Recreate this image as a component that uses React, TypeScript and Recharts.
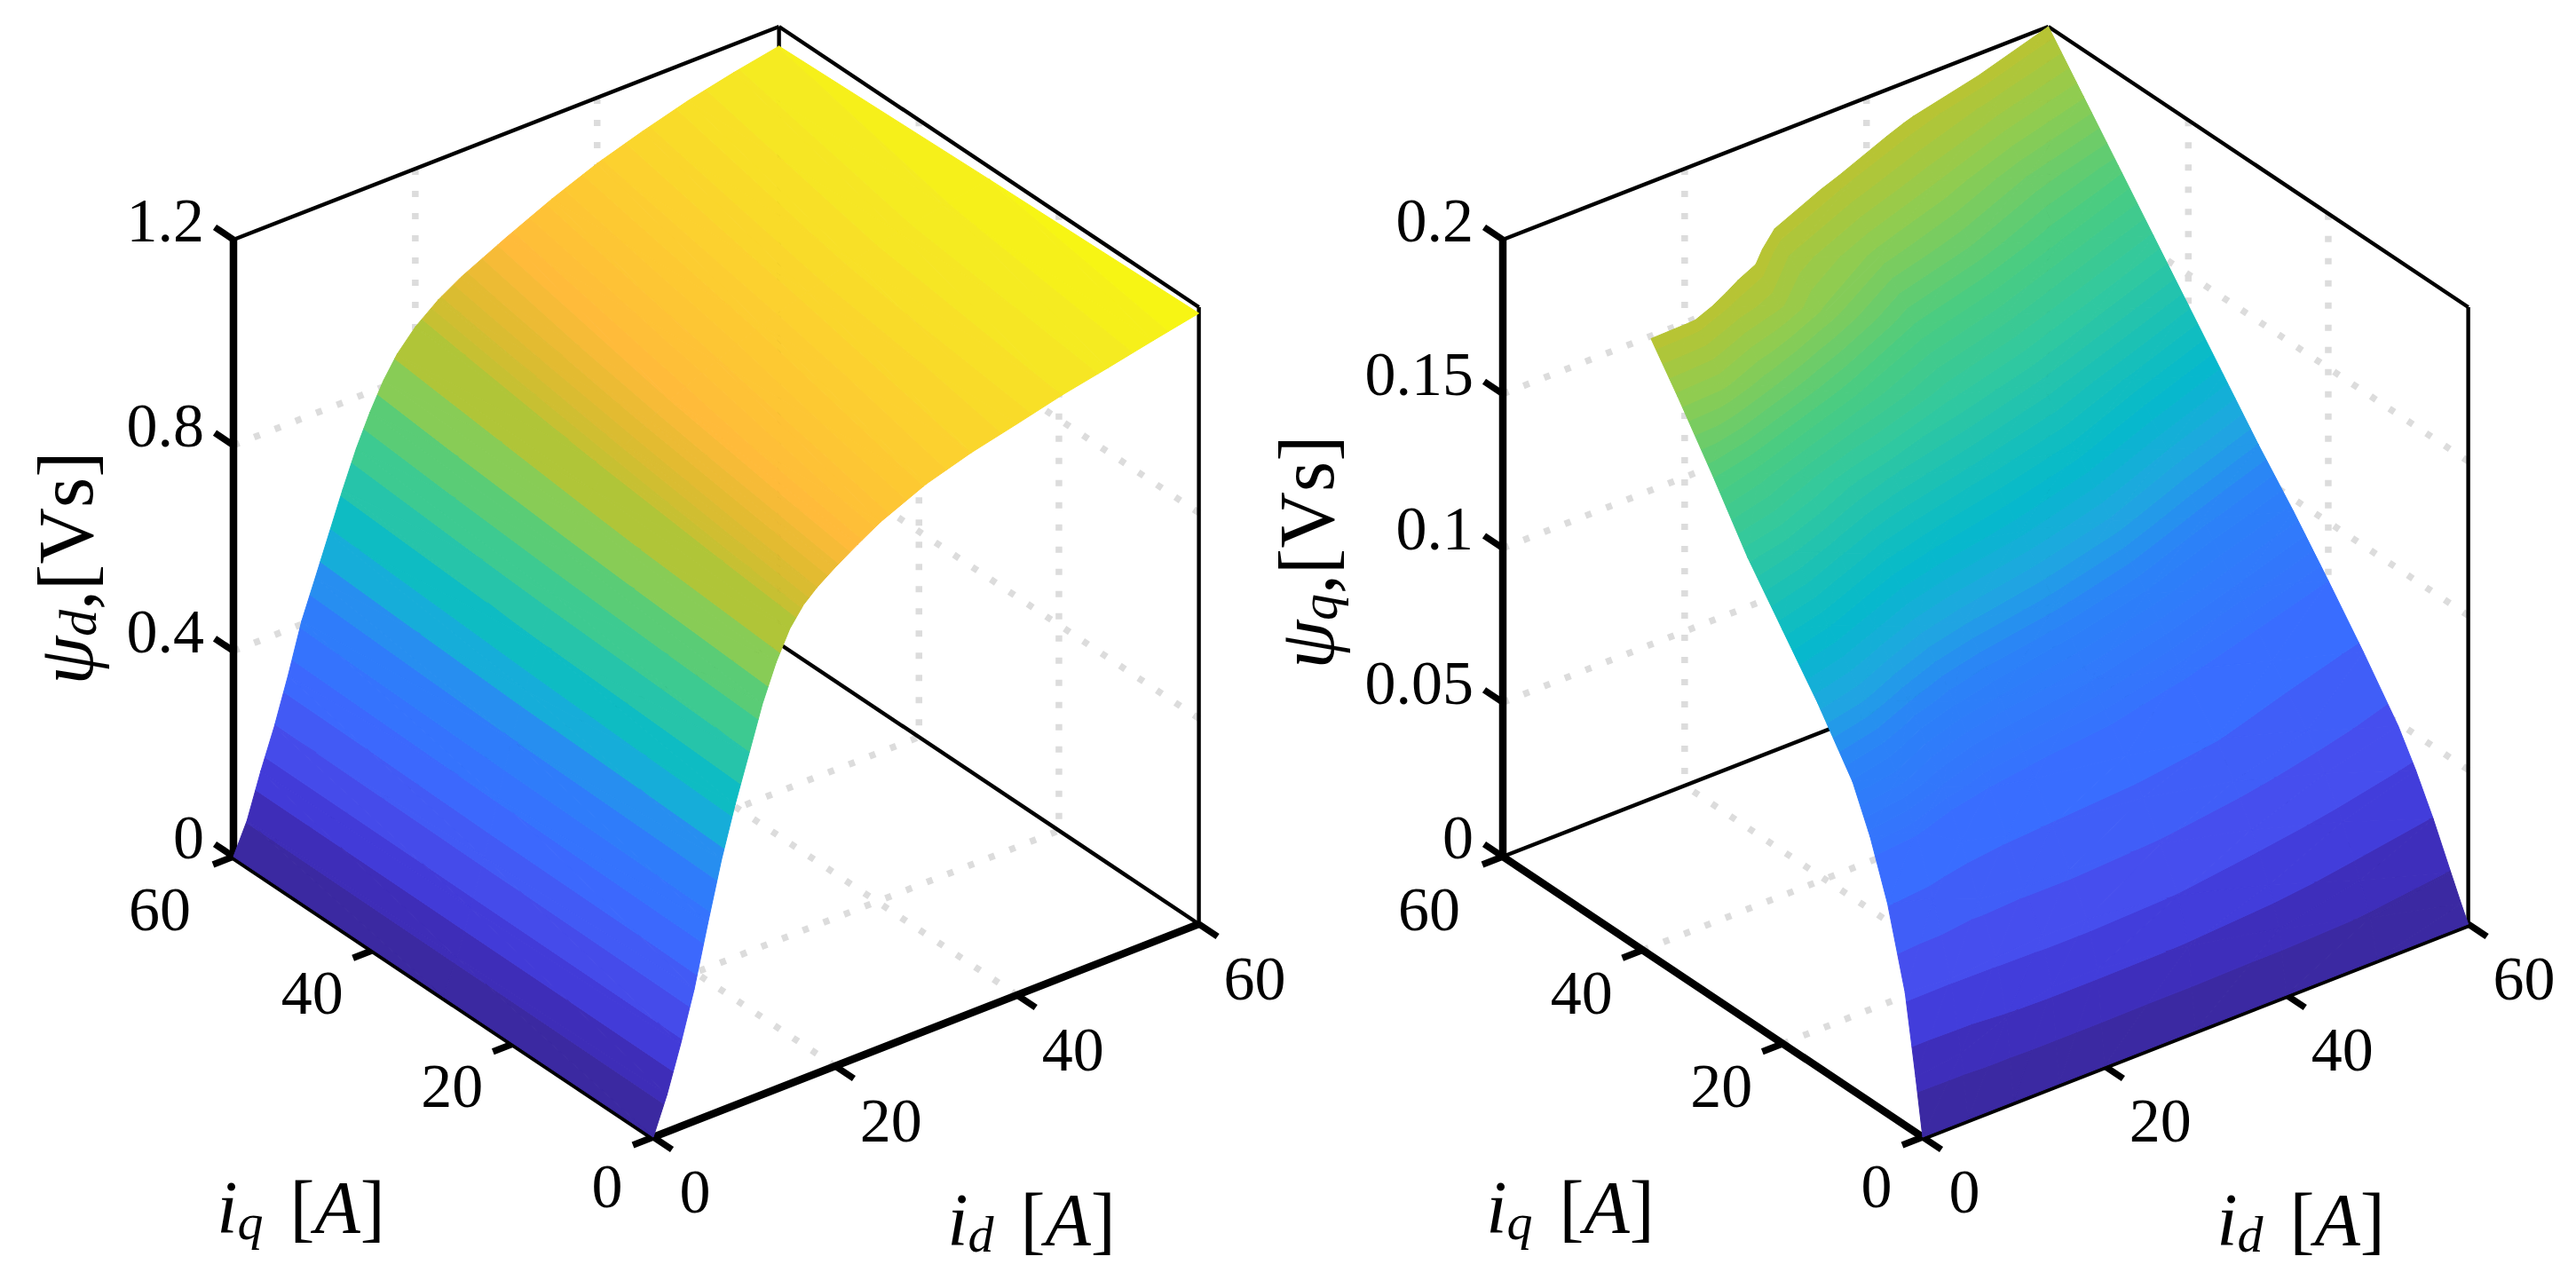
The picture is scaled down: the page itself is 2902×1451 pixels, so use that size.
import { Scatter, ScatterChart, XAxis, YAxis } from "recharts";

const PANEL_H = 1451;
const FONT = "'Liberation Serif', serif";

// values
const idTicks = [0, 20, 40, 60];
const iqTicks = [0, 20, 40, 60];
const zTicksD = [0, 0.4, 0.8, 1.2];
const zLabelsD = ["0", "0.4", "0.8", "1.2"];
const zTicksQ = [0, 0.05, 0.1, 0.15, 0.2];
const zLabelsQ = ["0", "0.05", "0.1", "0.15", "0.2"];

const dIds = [0, 1.5, 3, 4.5, 6, 7.5, 9, 10.5, 12, 13.5, 15, 16.5, 18, 20, 22.5, 25, 30, 35, 40, 45, 50, 55, 60];
const dIqs = [0, 30, 60];
const psiD = [
  [0, 0.072, 0.16, 0.257, 0.375, 0.488, 0.585, 0.672, 0.76, 0.83, 0.885, 0.921, 0.945, 0.97, 0.998, 1.024, 1.063, 1.09, 1.111, 1.133, 1.151, 1.17, 1.188],
  [0, 0.066, 0.152, 0.24, 0.345, 0.45, 0.535, 0.617, 0.7, 0.77, 0.83, 0.872, 0.905, 0.935, 0.965, 0.99, 1.03, 1.065, 1.095, 1.122, 1.142, 1.16, 1.176],
  [0, 0.06, 0.145, 0.222, 0.31, 0.406, 0.48, 0.555, 0.63, 0.7, 0.76, 0.812, 0.853, 0.892, 0.927, 0.954, 0.997, 1.037, 1.072, 1.1, 1.125, 1.145, 1.162],
];

const qIds = [0, 5, 10, 15, 20, 30, 40, 50, 60];
const qIqs = [0, 1, 2.5, 5, 7.5, 10, 15, 20, 25, 30, 35, 40, 45, 50, 55, 60];
const psiQ = [
  [0, 0, 0, 0, 0, 0, 0, 0, 0],
  [0.018, 0.02, 0.026, 0.03, 0.03, 0.026, 0.02, 0.012, 0.005],
  [0.043, 0.042, 0.043, 0.044, 0.044, 0.04, 0.032, 0.022, 0.013],
  [0.068, 0.064, 0.058, 0.056, 0.056, 0.053, 0.046, 0.037, 0.0265],
  [0.086, 0.082, 0.073, 0.069, 0.067, 0.064, 0.058, 0.049, 0.0385],
  [0.1, 0.096, 0.087, 0.081, 0.078, 0.074, 0.068, 0.059, 0.049],
  [0.118, 0.114, 0.107, 0.101, 0.097, 0.091, 0.083, 0.074, 0.0655],
  [0.134, 0.13, 0.124, 0.118, 0.114, 0.108, 0.1, 0.09, 0.081],
  [0.15, 0.146, 0.14, 0.134, 0.13, 0.124, 0.116, 0.105, 0.096],
  [0.169, 0.164, 0.157, 0.15, 0.145, 0.138, 0.131, 0.12, 0.11],
  [0.187, 0.186, 0.179, 0.172, 0.165, 0.153, 0.145, 0.135, 0.125],
  [0.204, 0.2035, 0.197, 0.192, 0.184, 0.168, 0.16, 0.15, 0.14],
  [0.222, 0.218, 0.211, 0.204, 0.194, 0.183, 0.175, 0.165, 0.155],
  [0.238, 0.232, 0.226, 0.218, 0.208, 0.197, 0.188, 0.178, 0.17],
  [0.252, 0.247, 0.24, 0.232, 0.225, 0.213, 0.201, 0.193, 0.185],
  [0.265, 0.26, 0.255, 0.249, 0.243, 0.232, 0.222, 0.21, 0.2],
];

// colormap stops as seen on the surface
const cmapPos = [0, 0.06, 0.11, 0.18, 0.27, 0.385, 0.43, 0.477, 0.56, 0.62, 0.69, 0.735, 0.79, 0.83, 0.9, 0.96, 1];
const cmapCol = [
  "#3a2898", "#3d2ab0", "#4138d5", "#4650f0", "#3a6cff", "#2b82f8", "#1fa7e0", "#05b9cc", "#30c8a0",
  "#4ccc80", "#90cc50", "#b5c434", "#e0bb30", "#ffbb3a", "#fcd02f", "#f5ea22", "#f8fb0c",
];

function hexRgb(h: string) {
  return [1, 3, 5].map((i) => parseInt(h.slice(i, i + 2), 16));
}

function cmap(v: number) {
  let k = 0;
  while (k < cmapPos.length - 2 && v > cmapPos[k + 1]) k++;
  const t = Math.min(1, Math.max(0, (v - cmapPos[k]) / (cmapPos[k + 1] - cmapPos[k])));
  const a = hexRgb(cmapCol[k]);
  const b = hexRgb(cmapCol[k + 1]);
  return `rgb(${a.map((c, i) => Math.round(c + (b[i] - c) * t)).join(",")})`;
}

type V = { x: number; y: number; z: number };

// keep the part of a polygon on one side of a z level
function cutZ(poly: V[], level: number, above: boolean) {
  const out: V[] = [];
  poly.forEach((a, i) => {
    const b = poly[(i + 1) % poly.length];
    const aIn = above ? a.z >= level : a.z <= level;
    const bIn = above ? b.z >= level : b.z <= level;
    if (aIn) out.push(a);
    if (aIn !== bIn) {
      const t = (level - a.z) / (b.z - a.z);
      out.push({ x: a.x + (b.x - a.x) * t, y: a.y + (b.y - a.y) * t, z: level });
    }
  });
  return out;
}

type Cfg = {
  left: number;
  width: number;
  originX: number;
  zMax: number;
  cMax: number;
  band: number;
  bandTop: number;
  fine: number;
  fluxX: number;
  fluxY: number;
  iqTitleX: number;
  idTitleX: number;
  sub: string;
  ids: number[];
  iqs: number[];
  table: number[][];
  zTicks: number[];
  zLabels: string[];
};

const ORIGIN_Y = 1281;

function projector(originX: number, zMax: number) {
  return (id: number, iq: number, z: number) => ({
    x: originX + (id / 60) * 614.6 - (iq / 60) * 473,
    y: ORIGIN_Y - (id / 60) * 240 - (iq / 60) * 316 - (z / zMax) * 695,
  });
}

function buildSurface(c: Cfg) {
  const p = projector(c.originX, c.zMax);
  const levels = [0];
  while (levels[levels.length - 1] < c.bandTop) levels.push(levels[levels.length - 1] + c.band);
  while (levels[levels.length - 1] < 1.02) levels.push(levels[levels.length - 1] + c.fine);
  const polys: { color: string; n: number }[] = [];
  const pts: { x: number; y: number }[] = [];
  const vert = (a: number, b: number) => {
    const q = p(c.ids[b], c.iqs[a], c.table[a][b]);
    return { x: q.x, y: q.y, z: c.table[a][b] / c.cMax };
  };
  const limit = c.zMax / c.cMax;
  for (let a = c.iqs.length - 2; a >= 0; a--) {
    for (let b = c.ids.length - 2; b >= 0; b--) {
      const tris = [
        [vert(a, b), vert(a, b + 1), vert(a + 1, b + 1)],
        [vert(a, b), vert(a + 1, b + 1), vert(a + 1, b)],
      ];
      tris.forEach((tri) => {
        for (let l = 0; l < levels.length - 1; l++) {
          if (levels[l] >= limit) break;
          const hi = Math.min(levels[l + 1], limit);
          const piece = cutZ(cutZ(tri, levels[l], true), hi, false);
          if (piece.length < 3) continue;
          polys.push({ color: cmap((levels[l] + levels[l + 1]) / 2), n: piece.length });
          piece.forEach((v) => pts.push({ x: v.x, y: v.y }));
        }
      });
    }
  }
  return { polys, pts };
}

function grid(c: Cfg) {
  const p = projector(c.originX, c.zMax);
  const out: { x: number; y: number }[] = [];
  const add = (a: { x: number; y: number }, b: { x: number; y: number }) => out.push(a, b);
  c.zTicks.slice(1, -1).forEach((z) => {
    add(p(0, 60, z), p(60, 60, z));
    add(p(60, 0, z), p(60, 60, z));
  });
  [20, 40].forEach((t) => {
    add(p(t, 60, c.zMax), p(t, 60, 0));
    add(p(60, t, c.zMax), p(60, t, 0));
    add(p(t, 0, 0), p(t, 60, 0));
    add(p(0, t, 0), p(60, t, 0));
  });
  return out;
}

function thinBox(c: Cfg) {
  const p = projector(c.originX, c.zMax);
  return [
    p(0, 60, c.zMax), p(60, 60, c.zMax),
    p(60, 60, c.zMax), p(60, 0, c.zMax),
    p(60, 0, c.zMax), p(60, 0, 0),
    p(60, 60, c.zMax), p(60, 60, 0),
    p(0, 60, 0), p(60, 60, 0),
    p(60, 60, 0), p(60, 0, 0),
  ];
}

function thickAxes(c: Cfg) {
  const p = projector(c.originX, c.zMax);
  return [p(0, 60, 0), p(0, 60, c.zMax), p(0, 0, 0), p(60, 0, 0), p(0, 0, 0), p(0, 60, 0)];
}

function tickMarks(c: Cfg) {
  const p = projector(c.originX, c.zMax);
  const out: { x: number; y: number }[] = [];
  const add = (a: { x: number; y: number }, dx: number, dy: number) =>
    out.push(a, { x: a.x + dx, y: a.y + dy });
  c.zTicks.forEach((z) => add(p(0, 60, z), -21, -14));
  idTicks.forEach((t) => add(p(t, 0, 0), 21, 14));
  iqTicks.forEach((t) => add(p(0, t, 0), -23, 9));
  return out;
}

function tickLabels(c: Cfg) {
  const p = projector(c.originX, c.zMax);
  const out: { x: number; y: number; text: string; anchor: string }[] = [];
  c.zTicks.forEach((z, i) => {
    const q = p(0, 60, z);
    out.push({ x: q.x - 33, y: q.y - 22, text: c.zLabels[i], anchor: "end" });
  });
  idTicks.forEach((t) => {
    const q = p(t, 0, 0);
    out.push({ x: q.x + (t === 0 ? 47 : 63), y: q.y + 61, text: String(t), anchor: "middle" });
  });
  iqTicks.forEach((t) => {
    const q = p(0, t, 0);
    const off = t === 0 ? [-52, 55] : t === 60 ? [-83, 59] : [-69, 48];
    out.push({ x: q.x + off[0], y: q.y + off[1], text: String(t), anchor: "middle" });
  });
  return out;
}

const noDot = () => <g />;

function segments(stroke: string, width: number, dash?: string) {
  return (props: any) => {
    const pts = props.points;
    const items = [];
    for (let i = 0; i + 1 < pts.length; i += 2) {
      items.push(
        <line
          key={i}
          x1={pts[i].x}
          y1={pts[i].y}
          x2={pts[i + 1].x}
          y2={pts[i + 1].y}
          stroke={stroke}
          strokeWidth={width}
          strokeDasharray={dash}
        />
      );
    }
    return <g>{items}</g>;
  };
}

function polygons(polys: { color: string; n: number }[]) {
  return (props: any) => {
    const pts = props.points;
    let k = 0;
    return (
      <g>
        {polys.map((poly, i) => {
          const s = pts.slice(k, k + poly.n).map((v: any) => `${v.x},${v.y}`).join(" ");
          k += poly.n;
          return <polygon key={i} points={s} fill={poly.color} stroke={poly.color} strokeWidth={1} strokeLinejoin="round" />;
        })}
      </g>
    );
  };
}

function TickText(props: any) {
  const d = props.payload;
  return (
    <text x={props.cx} y={props.cy} textAnchor={d.anchor} dominantBaseline="central" fontFamily={FONT} fontSize={70} fill="#000">
      {d.text}
    </text>
  );
}

function CurrentTitle(props: any) {
  const d = props.payload;
  return (
    <text x={props.cx} y={props.cy} textAnchor="middle" dominantBaseline="central" fontFamily={FONT} fontSize={84} fill="#000">
      <tspan fontStyle="italic">i</tspan>
      <tspan fontStyle="italic" fontSize={58} dy={16}>{d.sub}</tspan>
      <tspan dy={-16} dx={30}>[</tspan>
      <tspan fontStyle="italic">A</tspan>
      <tspan>]</tspan>
    </text>
  );
}

function FluxTitle(props: any) {
  const d = props.payload;
  return (
    <text
      x={props.cx}
      y={props.cy}
      textAnchor="middle"
      dominantBaseline="central"
      fontFamily={FONT}
      fontSize={88}
      fill="#000"
      transform={`rotate(-90 ${props.cx} ${props.cy})`}
    >
      <tspan fontStyle="italic">ψ</tspan>
      <tspan fontStyle="italic" fontSize={60} dy={14}>{d.sub}</tspan>
      <tspan dy={-14}>,[Vs]</tspan>
    </text>
  );
}

function Panel({ cfg }: { cfg: Cfg }) {
  const surface = buildSurface(cfg);
  return (
    <div style={{ position: "absolute", left: cfg.left, top: 0 }}>
      <ScatterChart width={cfg.width} height={PANEL_H} margin={{ top: 0, right: 0, bottom: 0, left: 0 }}>
        <XAxis type="number" dataKey="x" domain={[0, cfg.width]} hide />
        <YAxis type="number" dataKey="y" domain={[0, PANEL_H]} reversed hide />
        <Scatter data={grid(cfg)} line={segments("#dcdcdc", 7.5, "7 18")} shape={noDot} isAnimationActive={false} />
        <Scatter data={thinBox(cfg)} line={segments("#000", 4.4)} shape={noDot} isAnimationActive={false} />
        <Scatter data={thickAxes(cfg)} line={segments("#000", 8.5)} shape={noDot} isAnimationActive={false} />
        <Scatter data={tickMarks(cfg)} line={segments("#000", 7.5)} shape={noDot} isAnimationActive={false} />
        <Scatter data={surface.pts} line={polygons(surface.polys)} shape={noDot} isAnimationActive={false} />
        <Scatter data={tickLabels(cfg)} shape={TickText} isAnimationActive={false} />
        <Scatter data={[{ x: cfg.iqTitleX, y: 1360, sub: "q" }]} shape={CurrentTitle} isAnimationActive={false} />
        <Scatter data={[{ x: cfg.idTitleX, y: 1374, sub: "d" }]} shape={CurrentTitle} isAnimationActive={false} />
        <Scatter data={[{ x: cfg.fluxX, y: cfg.fluxY, sub: cfg.sub }]} shape={FluxTitle} isAnimationActive={false} />
      </ScatterChart>
    </div>
  );
}

const cfgD: Cfg = {
  left: 0, width: 1480, originX: 736, zMax: 1.2, cMax: 1.2, band: 0.047, bandTop: 0.74, fine: 0.012,
  fluxX: 74, fluxY: 640, iqTitleX: 339, idTitleX: 1162, sub: "d",
  ids: dIds, iqs: dIqs, table: psiD, zTicks: zTicksD, zLabels: zLabelsD,
};
// right panel sits on the same layout 1430px further on, with room for its rotated title
const cfgQ: Cfg = {
  left: 1391, width: 1511, originX: 775, zMax: 0.2, cMax: 0.27, band: 0.05, bandTop: 0.3, fine: 0.012,
  fluxX: 81, fluxY: 622, iqTitleX: 378, idTitleX: 1201, sub: "q",
  ids: qIds, iqs: qIqs, table: psiQ, zTicks: zTicksQ, zLabels: zLabelsQ,
};

export default function App() {
  return (
    <div style={{ position: "absolute", left: 0, top: 0, width: 2902, height: 1451, background: "#fff" }}>
      <Panel cfg={cfgD} />
      <Panel cfg={cfgQ} />
    </div>
  );
}
